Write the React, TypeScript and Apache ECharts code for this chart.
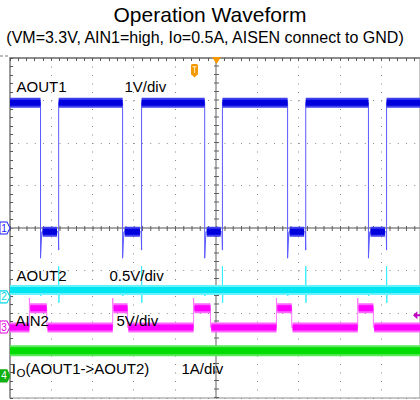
import React, { useEffect, useRef } from "react";
import * as echarts from "echarts";

// Scope screen: 10 horizontal divisions (cropped at right), 8 vertical divisions, trigger at 0
const X_MIN = -5;
const X_MAX = 4.94;
const Y_MIN = -4;
const Y_MAX = 4;

// AOUT1 (1V/div) – edge times in divisions
const aout1FallX = [-4.26, -2.27, -0.28, 1.73, 3.69];
const aout1RiseX = [-3.82, -1.81, 0.15, 2.17, 4.13];
const aout1High = 2.95;
const aout1Low = -0.09;
const aout1FallSpike = -0.71;
const aout1RiseSpike = -0.52;

// AOUT2 (0.5V/div)
const aout2Level = -1.46;
const aout2SpikeHigh = -0.9;
const aout2SpikeLow = -1.76;
const aout2Dip = -1.6;

// AIN2 (5V/div)
const ain2RiseX = [-4.53, -2.51, -0.55, 1.46, 3.43];
const ain2FallX = [-4.11, -2.15, -0.14, 1.83, 3.81];
const ain2High = -1.89;
const ain2Low = -2.34;
const ain2Spike = -1.65;
const ain2TrigLevel = -2.05;

// IO (1A/div)
const ioLevel = -2.89;

// Channel ground markers
const markerNames = ["1", "2", "3", "4"];
const markerLevels = [0, -1.62, -2.33, -3.48];
const markerColors = ["#1a1aff", "#00d8e8", "#e000e0", "#10b010"];

const FONT = '"Liberation Sans", Arial, sans-serif';

type P = [number, number | string];

function buildAout1Thin(): P[] {
  const d: P[] = [[X_MIN, aout1High]];
  aout1FallX.forEach((f, i) => {
    const r = aout1RiseX[i];
    d.push([f, aout1High], [f, aout1FallSpike], [f + 0.03, aout1Low], [r - 0.01, aout1Low], [r, aout1RiseSpike], [r, aout1High]);
  });
  d.push([X_MAX, aout1High]);
  return d;
}
function buildAout1Band(): P[] {
  const d: P[] = [];
  let start = X_MIN;
  aout1FallX.forEach((f, i) => {
    const r = aout1RiseX[i];
    d.push([start, aout1High], [f, aout1High], [f, "-"], [f + 0.05, aout1Low], [r - 0.04, aout1Low], [r, "-"]);
    start = r;
  });
  d.push([start, aout1High], [X_MAX, aout1High]);
  return d;
}
function buildAout2Thin(): P[] {
  const d: P[] = [[X_MIN, aout2Level]];
  aout1FallX.forEach((f, i) => {
    const r = aout1RiseX[i];
    d.push([f, aout2Level], [f + 0.005, aout2Dip], [f + 0.01, aout2Level]);
    d.push([r, aout2Level], [r, aout2SpikeHigh], [r + 0.005, aout2SpikeLow], [r + 0.01, aout2Level]);
  });
  d.push([X_MAX, aout2Level]);
  return d;
}
function buildAin2Thin(): P[] {
  const d: P[] = [[X_MIN, ain2Low]];
  ain2RiseX.forEach((r, i) => {
    const f = ain2FallX[i];
    d.push([r, ain2Low], [r, ain2Spike], [r + 0.01, ain2High], [f, ain2High], [f, ain2Low]);
  });
  d.push([X_MAX, ain2Low]);
  return d;
}
function buildAin2Band(): P[] {
  const d: P[] = [];
  let start = X_MIN;
  ain2RiseX.forEach((r, i) => {
    const f = ain2FallX[i];
    d.push([start, ain2Low], [r, ain2Low], [r, "-"], [r + 0.02, ain2High], [f, ain2High], [f, "-"]);
    start = f + 0.02;
  });
  d.push([start, ain2Low], [X_MAX, ain2Low]);
  return d;
}

function line(data: P[], color: string, width: number, z = 2): any {
  return {
    type: "line",
    data,
    symbol: "none",
    showSymbol: false,
    silent: true,
    connectNulls: false,
    z,
    lineStyle: { color, width, cap: "butt", join: "miter" },
  };
}

function text(t: string, x: number, y: number, size: number, align = "left"): any {
  return {
    type: "text",
    x,
    y,
    z: 100,
    silent: true,
    style: {
      text: t,
      fill: "#000",
      font: `${size}px ${FONT}`,
      textAlign: align,
      textVerticalAlign: "middle",
    },
  };
}

function buildOption(): any {
  const markerData = markerNames.map((n, i) => ({
    coord: [X_MIN, markerLevels[i]],
    symbol: "path://M0,0L7,0L10,6L7,12L0,12Z",
    symbolSize: [10, 12],
    symbolOffset: [-5, 0],
    itemStyle: {
      color: i === 3 ? markerColors[i] : "#ffffff",
      borderColor: markerColors[i],
      borderWidth: 1,
    },
    label: {
      show: true,
      position: "inside",
      formatter: n,
      color: i === 3 ? "#ffffff" : markerColors[i],
      fontSize: 10,
      fontFamily: FONT,
      offset: [-1, 0],
    },
  }));

  const helper: any = {
    type: "line",
    data: [],
    z: 1,
    silent: true,
    markLine: {
      z: 1,
      silent: true,
      animation: false,
      symbol: ["none", "none"],
      label: { show: false },
      emphasis: { disabled: true },
      data: [
        [{ coord: [X_MIN, 0], lineStyle: { color: "#8a8a8a", width: 1.5, type: "solid" } }, { coord: [X_MAX, 0] }],
        [{ coord: [0, Y_MIN], lineStyle: { color: "#b0b0b0", width: 2, type: "solid" } }, { coord: [0, Y_MAX] }],
        [{ coord: [X_MIN, 0], lineStyle: { color: "#606060", width: 5, type: [1, 7.25] } }, { coord: [X_MAX, 0] }],
        [{ coord: [0, Y_MIN], lineStyle: { color: "#606060", width: 5, type: [1, 7.5] } }, { coord: [0, Y_MAX] }],
      ],
    },
    markPoint: {
      z: 20,
      silent: true,
      animation: false,
      data: markerData,
    },
  };

  const ain2ThinSeries = line(buildAin2Thin(), "#ff77ff", 1, 3);
  ain2ThinSeries.markPoint = {
    z: 20,
    silent: true,
    animation: false,
    data: [
      {
        coord: [X_MAX, ain2TrigLevel],
        symbol: "path://M0,4L5,0L5,3L8,3L8,5L5,5L5,8Z",
        symbolSize: [7, 8],
        symbolOffset: [-3.5, 0],
        itemStyle: { color: "#c000c0" },
        label: { show: false },
      },
    ],
  };

  return {
    animation: false,
    backgroundColor: "#ffffff",
    textStyle: { fontFamily: FONT },
    grid: {
      left: 10,
      right: 0,
      top: 58,
      bottom: 2,
      show: true,
      borderColor: "#8c8c8c",
      borderWidth: 1,
    },
    xAxis: {
      type: "value",
      min: X_MIN,
      max: X_MAX,
      interval: 1,
      position: "top",
      axisLine: { show: true, onZero: false, lineStyle: { color: "#8c8c8c", width: 2 } },
      axisTick: { show: true, inside: true, length: 3, lineStyle: { color: "#555" } },
      minorTick: { show: true, splitNumber: 5, length: 3, lineStyle: { color: "#555" } },
      axisLabel: { show: false },
      splitLine: { show: true, lineStyle: { color: "#8a8a8a", width: 1, type: [1, 7.5] } },
    },
    yAxis: {
      type: "value",
      min: Y_MIN,
      max: Y_MAX,
      interval: 1,
      position: "left",
      axisLine: { show: true, onZero: false, lineStyle: { color: "#8c8c8c", width: 1.5 } },
      axisTick: { show: true, inside: true, length: 3, lineStyle: { color: "#555" } },
      minorTick: { show: true, splitNumber: 5, length: 3, lineStyle: { color: "#555" } },
      axisLabel: { show: false },
      splitLine: { show: true, lineStyle: { color: "#8a8a8a", width: 1, type: [1, 7.25] } },
    },
    series: [
      helper,
      // IO
      line([[X_MIN, ioLevel], [X_MAX, ioLevel]], "#5ce85c", 11, 2),
      line([[X_MIN, ioLevel], [X_MAX, ioLevel]], "#00dd00", 7, 2),
      // AIN2
      ain2ThinSeries,
      line(buildAin2Band(), "#ff66ff", 10, 3),
      line(buildAin2Band(), "#ff00ff", 6, 3),
      // AOUT2
      line(buildAout2Thin(), "#33eeff", 1, 4),
      line([[X_MIN, aout2Level], [X_MAX, aout2Level]], "#66f2ff", 10, 4),
      line([[X_MIN, aout2Level], [X_MAX, aout2Level]], "#00e5f0", 6, 4),
      // AOUT1
      line(buildAout1Thin(), "#5a5aff", 1, 5),
      line(buildAout1Band(), "#4040f0", 10, 5),
      line(buildAout1Band(), "#0000dd", 6, 5),
    ],
    graphic: [
      text("Operation Waveform", 210, 14.5, 21, "center"),
      text("(VM=3.3V, AIN1=high, Io=0.5A, AISEN connect to GND)", 205, 37.5, 16, "center"),
      text("AOUT1", 16.5, 86, 15),
      text("1V/div", 124.5, 86, 15),
      text("AOUT2", 16.5, 275, 15),
      text("0.5V/div", 109.5, 275, 15),
      text("AIN2", 15.5, 320.5, 15),
      text("5V/div", 116.5, 320.5, 15),
      text("I", 11.8, 368.5, 15),
      text("O", 16.5, 372.5, 11.5),
      text("(AOUT1->AOUT2)", 25.5, 368.5, 15),
      text("1A/div", 181.5, 368.5, 15),
      {
        type: "line",
        silent: true,
        shape: { x1: 0, y1: 56, x2: 10, y2: 56 },
        style: { stroke: "#777", lineWidth: 1, lineDash: [3, 2] },
      },
      {
        type: "polygon",
        silent: true,
        shape: { points: [[212, 57], [221, 57], [216.5, 64]] },
        style: { fill: "#f39800" },
        z: 10,
      },
      {
        type: "group",
        x: 191,
        y: 64,
        silent: true,
        z: 10,
        children: [
          { type: "rect", shape: { x: 0, y: 0, width: 7, height: 11, r: 1.5 }, style: { fill: "#f39800" } },
          { type: "polygon", shape: { points: [[0, 10], [7, 10], [3.5, 13.5]] }, style: { fill: "#f39800" } },
          { type: "rect", shape: { x: 1.5, y: 2, width: 4, height: 1.3 }, style: { fill: "#ffe0a0" } },
          { type: "rect", shape: { x: 2.9, y: 2, width: 1.3, height: 7 }, style: { fill: "#ffe0a0" } },
        ],
      },
    ],
  };
}

export default function App() {
  const ref = useRef<HTMLDivElement>(null);
  useEffect(() => {
    if (!ref.current) return;
    const chart = echarts.init(ref.current, null, { renderer: "svg" });
    chart.setOption(buildOption());
    return () => chart.dispose();
  }, []);
  return (
    <div
      ref={ref}
      style={{ position: "fixed", left: 0, top: 0, width: 420, height: 400, background: "#fff" }}
    />
  );
}
